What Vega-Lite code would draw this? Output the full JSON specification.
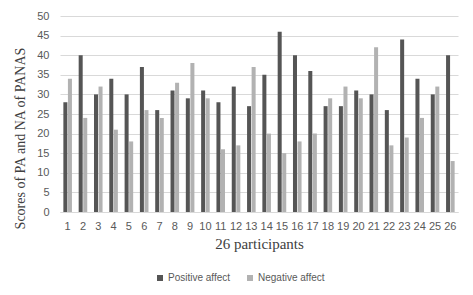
{
  "$schema": "https://vega.github.io/schema/vega-lite/v6.json",
  "width": 398,
  "height": 196,
  "autosize": {"type": "none"},
  "padding": {"left": 60, "top": 16, "right": 15, "bottom": 83},
  "background": "white",
  "data": {
    "values": [
      {"participant": 1, "measure": "Positive affect", "score": 28},
      {"participant": 1, "measure": "Negative affect", "score": 34},
      {"participant": 2, "measure": "Positive affect", "score": 40},
      {"participant": 2, "measure": "Negative affect", "score": 24},
      {"participant": 3, "measure": "Positive affect", "score": 30},
      {"participant": 3, "measure": "Negative affect", "score": 32},
      {"participant": 4, "measure": "Positive affect", "score": 34},
      {"participant": 4, "measure": "Negative affect", "score": 21},
      {"participant": 5, "measure": "Positive affect", "score": 30},
      {"participant": 5, "measure": "Negative affect", "score": 18},
      {"participant": 6, "measure": "Positive affect", "score": 37},
      {"participant": 6, "measure": "Negative affect", "score": 26},
      {"participant": 7, "measure": "Positive affect", "score": 26},
      {"participant": 7, "measure": "Negative affect", "score": 24},
      {"participant": 8, "measure": "Positive affect", "score": 31},
      {"participant": 8, "measure": "Negative affect", "score": 33},
      {"participant": 9, "measure": "Positive affect", "score": 29},
      {"participant": 9, "measure": "Negative affect", "score": 38},
      {"participant": 10, "measure": "Positive affect", "score": 31},
      {"participant": 10, "measure": "Negative affect", "score": 29},
      {"participant": 11, "measure": "Positive affect", "score": 28},
      {"participant": 11, "measure": "Negative affect", "score": 16},
      {"participant": 12, "measure": "Positive affect", "score": 32},
      {"participant": 12, "measure": "Negative affect", "score": 17},
      {"participant": 13, "measure": "Positive affect", "score": 27},
      {"participant": 13, "measure": "Negative affect", "score": 37},
      {"participant": 14, "measure": "Positive affect", "score": 35},
      {"participant": 14, "measure": "Negative affect", "score": 20},
      {"participant": 15, "measure": "Positive affect", "score": 46},
      {"participant": 15, "measure": "Negative affect", "score": 15},
      {"participant": 16, "measure": "Positive affect", "score": 40},
      {"participant": 16, "measure": "Negative affect", "score": 18},
      {"participant": 17, "measure": "Positive affect", "score": 36},
      {"participant": 17, "measure": "Negative affect", "score": 20},
      {"participant": 18, "measure": "Positive affect", "score": 27},
      {"participant": 18, "measure": "Negative affect", "score": 29},
      {"participant": 19, "measure": "Positive affect", "score": 27},
      {"participant": 19, "measure": "Negative affect", "score": 32},
      {"participant": 20, "measure": "Positive affect", "score": 31},
      {"participant": 20, "measure": "Negative affect", "score": 29},
      {"participant": 21, "measure": "Positive affect", "score": 30},
      {"participant": 21, "measure": "Negative affect", "score": 42},
      {"participant": 22, "measure": "Positive affect", "score": 26},
      {"participant": 22, "measure": "Negative affect", "score": 17},
      {"participant": 23, "measure": "Positive affect", "score": 44},
      {"participant": 23, "measure": "Negative affect", "score": 19},
      {"participant": 24, "measure": "Positive affect", "score": 34},
      {"participant": 24, "measure": "Negative affect", "score": 24},
      {"participant": 25, "measure": "Positive affect", "score": 30},
      {"participant": 25, "measure": "Negative affect", "score": 32},
      {"participant": 26, "measure": "Positive affect", "score": 40},
      {"participant": 26, "measure": "Negative affect", "score": 13}
    ]
  },
  "mark": {"type": "bar"},
  "encoding": {
    "x": {
      "field": "participant",
      "type": "ordinal",
      "title": "26 participants",
      "scale": {"paddingInner": 0.44, "paddingOuter": 0.22},
      "axis": {
        "labelAngle": 0,
        "labelFont": "Liberation Sans",
        "labelFontSize": 11,
        "labelColor": "#595959",
        "labelPadding": 8,
        "ticks": false,
        "domainColor": "#d9d9d9",
        "titleFont": "Liberation Serif",
        "titleFontSize": 15,
        "titleFontWeight": "normal",
        "titleColor": "#404040",
        "titlePadding": 5
      }
    },
    "xOffset": {
      "field": "measure",
      "type": "nominal",
      "sort": ["Positive affect", "Negative affect"],
      "scale": {"paddingInner": 0.12}
    },
    "y": {
      "field": "score",
      "type": "quantitative",
      "title": "Scores of PA and NA of PANAS",
      "scale": {"domain": [0, 50], "nice": false},
      "axis": {
        "values": [0, 5, 10, 15, 20, 25, 30, 35, 40, 45, 50],
        "domain": false,
        "ticks": false,
        "gridColor": "#d9d9d9",
        "labelFont": "Liberation Sans",
        "labelFontSize": 11,
        "labelColor": "#595959",
        "labelPadding": 11,
        "titleFont": "Liberation Serif",
        "titleFontSize": 14,
        "titleFontWeight": "normal",
        "titleColor": "#404040",
        "titlePadding": 9,
        "titleY": 122
      }
    },
    "color": {
      "field": "measure",
      "type": "nominal",
      "sort": ["Positive affect", "Negative affect"],
      "scale": {"range": ["#555555", "#b2b2b2"]},
      "legend": {
        "title": null,
        "orient": "none",
        "direction": "horizontal",
        "legendX": 95,
        "legendY": 257,
        "symbolType": "square",
        "symbolSize": 36,
        "symbolStrokeWidth": 0,
        "labelFont": "Liberation Sans",
        "labelFontSize": 10,
        "labelColor": "#595959",
        "columnPadding": 14,
        "labelOffset": 3
      }
    }
  },
  "config": {
    "view": {"stroke": null}
  }
}
